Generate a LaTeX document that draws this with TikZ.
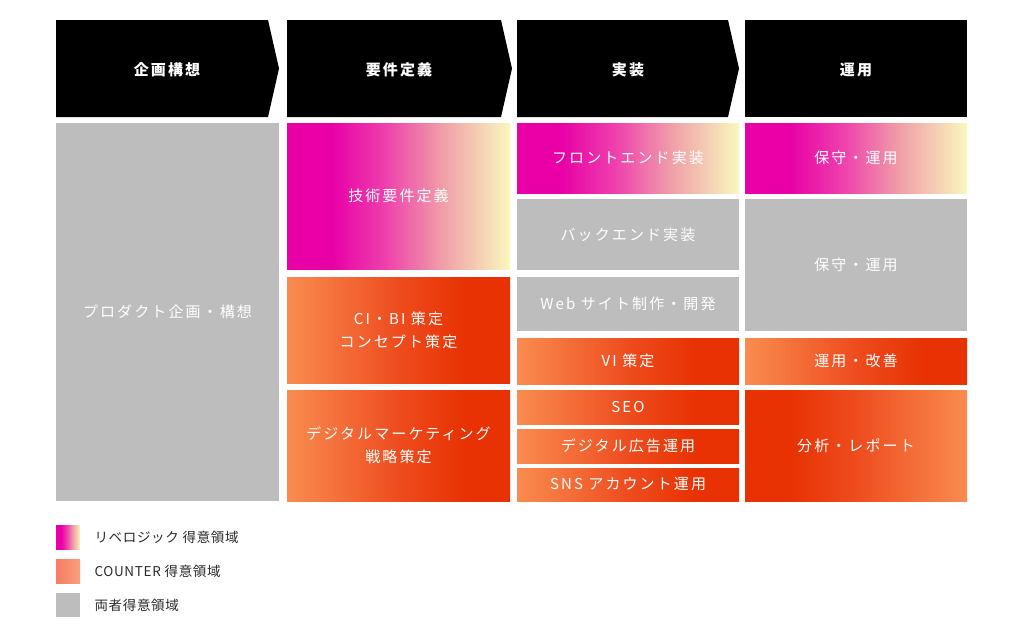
\documentclass[tikz,border=0pt]{standalone}
\usepackage{fontspec}
\setmainfont{Noto Sans CJK JP}
\newfontfamily\jpwide{Noto Sans CJK JP}[LetterSpace=14]
\newfontfamily\jpleg{Noto Sans CJK JP}[LetterSpace=5]
\usetikzlibrary{calc}

\definecolor{revmag}{HTML}{E800A6}
\definecolor{revpink}{HTML}{EE40AC}
\definecolor{revrose}{HTML}{F0A0A8}
\definecolor{revyel}{HTML}{F9F8BE}
\definecolor{cntlight}{HTML}{F98C50}
\definecolor{cntmid}{HTML}{EE4C1E}
\definecolor{cntred}{HTML}{E83203}
\definecolor{salmonL}{HTML}{F67C62}
\definecolor{salmonR}{HTML}{F8A07E}
\definecolor{bothgray}{HTML}{BDBDBD}
\definecolor{legtext}{HTML}{2A2A2A}

\pgfdeclarehorizontalshading{revfade}{100bp}{color(0bp)=(revmag); color(35bp)=(revmag); color(47bp)=(revpink); color(60bp)=(revrose); color(75bp)=(revyel); color(100bp)=(revyel)}
\pgfdeclarehorizontalshading{cntfade}{100bp}{color(0bp)=(cntlight); color(25bp)=(cntlight); color(50bp)=(cntmid); color(65bp)=(cntred); color(100bp)=(cntred)}
\pgfdeclarehorizontalshading{cntback}{100bp}{color(0bp)=(cntred); color(35bp)=(cntred); color(50bp)=(cntmid); color(75bp)=(cntlight); color(100bp)=(cntlight)}

\begin{document}
\begin{tikzpicture}[x=1pt, y=-1pt,
	cell/.style={anchor=north west, inner sep=0pt, outer sep=0pt, text=white, align=center,
		font=\jpwide\fontsize{15}{23}\selectfont},
	rev/.style={cell, shading=revfade},
	cnt/.style={cell, shading=cntfade},
	both/.style={cell, fill=bothgray},
	head/.style={text=white, font=\jpwide\bfseries\fontsize{15}{18}\selectfont},
	swatch/.style={anchor=north west, inner sep=0pt, minimum width=24pt, minimum height=24pt},
	legend/.style={anchor=west, text=legtext, font=\jpleg\fontsize{13.5}{16}\selectfont}]
	\useasboundingbox (0,0) rectangle (1024,635);
	
	% HEADERS
	\fill[black] (56,20)--(268,20)--(279,68.5)--(268,117)--(56,117)--cycle;
	\fill[black] (287,20)--(501,20)--(512,68.5)--(501,117)--(287,117)--cycle;
	\fill[black] (517,20)--(728,20)--(739,68.5)--(728,117)--(517,117)--cycle;
	\fill[black] (745,20) rectangle (967,117);
	\node[head] (h1) at (167,70) {企画構想};
	\node[head] (h2) at (399,70) {要件定義};
	\node[head] (h3) at (628,70) {実装};
	\node[head] (h4) at (856,70) {運用};
	
	% COLUMN 1
	\node[both, minimum width=223pt, minimum height=378pt] (c1a) at (56,123) {プロダクト企画・構想};
	
	% COLUMN 2
	\node[rev, minimum width=223pt, minimum height=146pt] (c2a) at (287,123) {技術要件定義};
	\node[cnt, minimum width=223pt, minimum height=106pt] (c2b) at (287,277) {CI・BI 策定\\コンセプト策定};
	\node[cnt, minimum width=223pt, minimum height=111pt] (c2c) at (287,390) {デジタルマーケティング\\戦略策定};
	
	% COLUMN 3
	\node[rev, minimum width=222pt, minimum height=70pt] (c3a) at (517,123) {フロントエンド実装};
	\node[both, minimum width=222pt, minimum height=71pt] (c3b) at (517,199) {バックエンド実装};
	\node[both, minimum width=222pt, minimum height=54pt] (c3c) at (517,277) {Web サイト制作・開発};
	\node[cnt, minimum width=222pt, minimum height=46pt] (c3d) at (517,338) {VI 策定};
	\node[cnt, minimum width=222pt, minimum height=34pt] (c3e) at (517,390) {SEO};
	\node[cnt, minimum width=222pt, minimum height=34pt] (c3f) at (517,429) {デジタル広告運用};
	\node[cnt, minimum width=222pt, minimum height=33pt] (c3g) at (517,468) {SNS アカウント運用};
	
	% COLUMN 4
	\node[rev, minimum width=222pt, minimum height=70pt] (c4a) at (745,123) {保守・運用};
	\node[both, minimum width=222pt, minimum height=132pt] (c4b) at (745,199) {保守・運用};
	\node[cnt, minimum width=222pt, minimum height=46pt] (c4c) at (745,338) {運用・改善};
	\node[cell, shading=cntback, minimum width=222pt, minimum height=111pt] (c4d) at (745,390) {分析・レポート};
	
	% LEGEND
	\node[swatch, shading=revfade] (k1) at (56,525) {};
	\node[swatch, left color=salmonL, right color=salmonR] (k2) at (56,559) {};
	\node[swatch, fill=bothgray] (k3) at (56,593) {};
	\node[legend] (l1) at (91,537) {リベロジック 得意領域};
	\node[legend] (l2) at (91,571) {COUNTER 得意領域};
	\node[legend] (l3) at (91,605) {両者得意領域};
\end{tikzpicture}
\end{document}
